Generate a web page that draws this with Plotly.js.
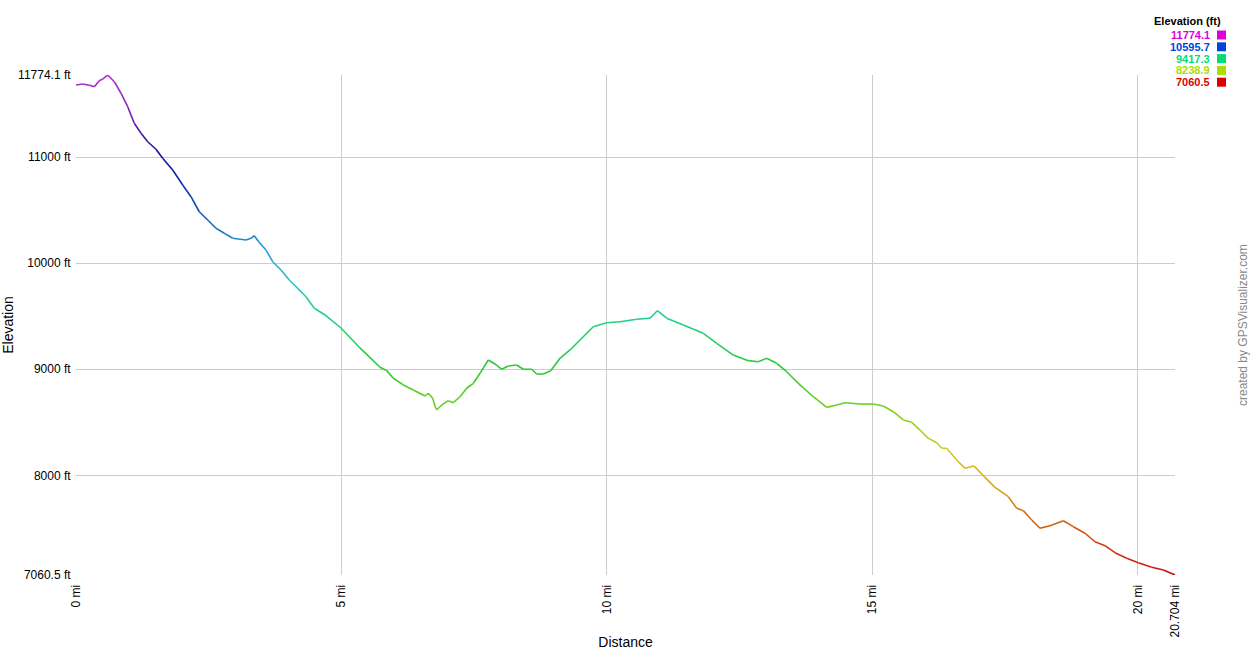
<!DOCTYPE html>
<html>
<head>
<meta charset="utf-8">
<script src="https://cdn.plot.ly/plotly-3.0.1.min.js"></script>
<style>html,body{margin:0;padding:0;background:#fff;}#chart{width:1250px;height:650px;}</style>
</head>
<body>
<div id="chart"></div>
<script>
// Distance (mi)
var distance = [0,0.126,0.251,0.345,0.439,0.503,0.597,0.722,0.848,0.974,1.098,1.225,1.351,1.507,1.633,1.822,2.010,2.166,2.323,2.481,2.637,2.794,2.952,3.203,3.297,3.359,3.442,3.579,3.706,3.862,4.018,4.177,4.333,4.489,4.691,4.992,5.350,5.727,5.853,5.978,6.166,6.354,6.575,6.637,6.720,6.763,6.795,6.889,7.014,7.108,7.234,7.360,7.485,7.611,7.767,7.893,8.020,8.144,8.302,8.427,8.585,8.679,8.803,8.943,9.118,9.306,9.495,9.745,9.998,10.248,10.563,10.813,10.951,11.128,11.441,11.818,12.070,12.383,12.665,12.854,13.012,13.200,13.389,13.639,13.890,14.142,14.331,14.487,14.770,15.020,15.209,15.397,15.586,15.744,15.900,16.056,16.215,16.309,16.403,16.591,16.748,16.917,17.125,17.313,17.564,17.722,17.846,18.005,18.161,18.349,18.600,18.788,19.009,19.197,19.386,19.574,19.794,20.013,20.265,20.484,20.704];
// Elevation (ft)
var elevation = [11680,11689,11677,11664,11720,11736,11774,11711,11602,11475,11319,11225,11145,11074,10989,10879,10737,10627,10485,10407,10329,10282,10235,10219,10235,10259,10203,10124,10014,9936,9842,9763,9684,9575,9512,9389,9201,9019,8987,8915,8852,8805,8748,8773,8726,8654,8616,8663,8704,8685,8741,8821,8868,8962,9087,9050,9000,9031,9040,9000,9000,8955,8955,8986,9103,9182,9276,9401,9439,9448,9471,9481,9552,9481,9417,9339,9245,9134,9081,9071,9103,9056,8977,8852,8741,8641,8663,8685,8672,8672,8654,8600,8522,8500,8427,8349,8308,8255,8255,8145,8066,8088,7981,7887,7799,7689,7667,7579,7501,7525,7572,7516,7454,7374,7337,7271,7218,7176,7133,7108,7061];

var yTickVals = [7060.5, 8000, 9000, 10000, 11000, 11774.1];
var yTickText = ['7060.5 ft','8000 ft','9000 ft','10000 ft','11000 ft','11774.1 ft'];
var xTickVals = [0, 5, 10, 15, 20, 20.704];
var xTickText = ['0 mi','5 mi','10 mi','15 mi','20 mi','20.704 mi'];

var legendValues = ['11774.1','10595.7','9417.3','8238.9','7060.5'];
var legendColors = ['#dd00dd','#0044dd','#00dd77','#aadd00','#dd0000'];

// line colour scale (elevation -> colour)
var scaleElev = [7060,7500,7900,8250,8650,9000,9420,9800,10200,10600,11000,11400,11774];
var scaleCols = ['#c81010','#d05810','#d8a818','#d0d020','#70d020','#30c830','#20d080','#30c8c0','#2090d0','#1040b0','#1010a0','#7020b0','#b030c8'];

function hexToRgb(h){return [parseInt(h.substr(1,2),16),parseInt(h.substr(3,2),16),parseInt(h.substr(5,2),16)];}
function colorAt(e){
  if(e<=scaleElev[0]) return scaleCols[0];
  for(var i=1;i<scaleElev.length;i++){
    if(e<=scaleElev[i]){
      var t=(e-scaleElev[i-1])/(scaleElev[i]-scaleElev[i-1]);
      var a=hexToRgb(scaleCols[i-1]), b=hexToRgb(scaleCols[i]);
      return 'rgb('+Math.round(a[0]+(b[0]-a[0])*t)+','+Math.round(a[1]+(b[1]-a[1])*t)+','+Math.round(a[2]+(b[2]-a[2])*t)+')';
    }
  }
  return scaleCols[scaleCols.length-1];
}

var traces = [];
for (var i=0;i<distance.length-1;i++){
  traces.push({
    type:'scatter', mode:'lines',
    x:[distance[i],distance[i+1]], y:[elevation[i],elevation[i+1]],
    line:{color:colorAt((elevation[i]+elevation[i+1])/2), width:1.6},
    hoverinfo:'skip', showlegend:false
  });
}

var font = 'Liberation Sans, Arial, sans-serif';
var annotations = [
  {xref:'paper',yref:'paper',x:1.0+ (1223-1175)/1099, y:1+(75-21)/500, xanchor:'right', yanchor:'middle',
   text:'<b>Elevation (ft)</b>', showarrow:false, font:{family:font,size:11,color:'#000'}},
  {xref:'paper',yref:'paper',x:1+(1243-1175)/1099, y:0.5, xanchor:'center', yanchor:'middle', textangle:-90,
   text:'created by GPSVisualizer.com', showarrow:false, font:{family:font,size:12,color:'#888'}}
];
var shapes = [];
for (var k=0;k<legendValues.length;k++){
  var cy = 35 + k*11.8;
  annotations.push({xref:'paper',yref:'paper',x:1+(1212-1175)/1099, y:1+(75-cy)/500, xanchor:'right', yanchor:'middle',
    text:'<b>'+legendValues[k]+'</b>', showarrow:false, font:{family:font,size:11,color:legendColors[k]}});
  shapes.push({type:'rect',xref:'paper',yref:'paper',
    x0:1+(1217-1175)/1099, x1:1+(1226-1175)/1099, y0:1+(75-(cy+4.5))/500, y1:1+(75-(cy-4.5))/500,
    fillcolor:legendColors[k], line:{width:0}});
}

var layout = {
  width:1250, height:650,
  margin:{l:76, r:75, t:75, b:75, pad:0},
  paper_bgcolor:'#fff', plot_bgcolor:'#fff',
  font:{family:font, size:11, color:'#000'},
  showlegend:false,
  xaxis:{
    range:[0,20.704], tickvals:xTickVals, ticktext:xTickText, tickangle:-90,
    showgrid:true, gridcolor:'#cccccc', gridwidth:1, zeroline:false, showline:false,
    ticks:'outside', ticklen:4, tickcolor:'rgba(0,0,0,0)', tickfont:{family:font,size:12,color:'#000'},
    title:{text:'Distance', font:{family:font,size:14,color:'#000'}, standoff:6}
  },
  yaxis:{
    range:[7060.5,11774.1], tickvals:yTickVals, ticktext:yTickText,
    showgrid:true, gridcolor:'#cccccc', gridwidth:1, zeroline:false, showline:false,
    ticks:'outside', ticklen:2, tickcolor:'rgba(0,0,0,0)', tickfont:{family:font,size:12,color:'#000'},
    title:{text:'Elevation', font:{family:font,size:14,color:'#000'}, standoff:4}
  },
  annotations:annotations, shapes:shapes
};

Plotly.newPlot('chart', traces, layout, {displayModeBar:false, staticPlot:true});
</script>
</body>
</html>
